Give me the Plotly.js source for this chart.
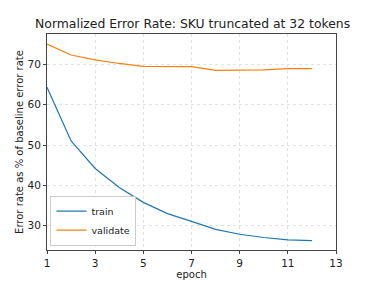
<!DOCTYPE html>
<html><head><meta charset="utf-8">
<script src="https://cdn.plot.ly/plotly-3.0.1.min.js"></script>
<style>body{margin:0;background:#fff}#c{width:374px;height:281px}</style>
</head><body><div id="c"></div>
<script>
const epochs = [1,2,3,4,5,6,7,8,9,10,11,12];
const train = [64.3,51.0,44.2,39.5,35.8,33.0,31.1,29.1,27.9,27.1,26.5,26.3];
const validate = [75.0,72.3,71.1,70.2,69.5,69.5,69.4,68.5,68.5,68.6,68.9,68.9];
const xTicks = [1,3,5,7,9,11,13];
const yTicks = [30,40,50,60,70];

const font = {family: 'DejaVu Sans', size: 10.5, color: '#222'};
const axisCommon = {
  showline: true, mirror: true, linecolor: '#444', linewidth: 1,
  ticks: 'outside', ticklen: 3, tickcolor: '#444',
  showgrid: true, gridcolor: '#e2e2e2', griddash: 'dot', gridwidth: 1,
  zeroline: false, tickfont: font
};
Plotly.newPlot('c', [
  {x: epochs, y: train, name: 'train', mode: 'lines', line: {color: '#1f77b4', width: 1.2}},
  {x: epochs, y: validate, name: 'validate', mode: 'lines', line: {color: '#ff7f0e', width: 1.2}}
], {
  width: 374, height: 281,
  margin: {l: 47, r: 38, t: 34, b: 31},
  paper_bgcolor: '#fff', plot_bgcolor: '#fff',
  font: font,
  title: {text: 'Normalized Error Rate: SKU truncated at 32 tokens', font: {family: 'DejaVu Sans', size: 12.4, color: '#222'}, x: 0.515, xanchor: 'center', y: 0.915, yanchor: 'middle'},
  xaxis: Object.assign({}, axisCommon, {range: [1, 13], tickvals: xTicks, title: {text: 'epoch', font: {family: 'DejaVu Sans', size: 10, color: '#222'}, standoff: 3}}),
  yaxis: Object.assign({}, axisCommon, {range: [24, 77.5], tickvals: yTicks, title: {text: 'Error rate as % of baseline error rate', font: {family: 'DejaVu Sans', size: 10, color: '#222'}, standoff: 2}}),
  showlegend: true,
  legend: {x: 0.012, y: 0.02, xanchor: 'left', yanchor: 'bottom', bgcolor: 'rgba(255,255,255,0.9)', bordercolor: '#ccc', borderwidth: 1, font: {family: 'DejaVu Sans', size: 9.5, color: '#222'}, itemwidth: 30, tracegroupgap: 0}
}, {displayModeBar: false, staticPlot: true});
</script></body></html>
